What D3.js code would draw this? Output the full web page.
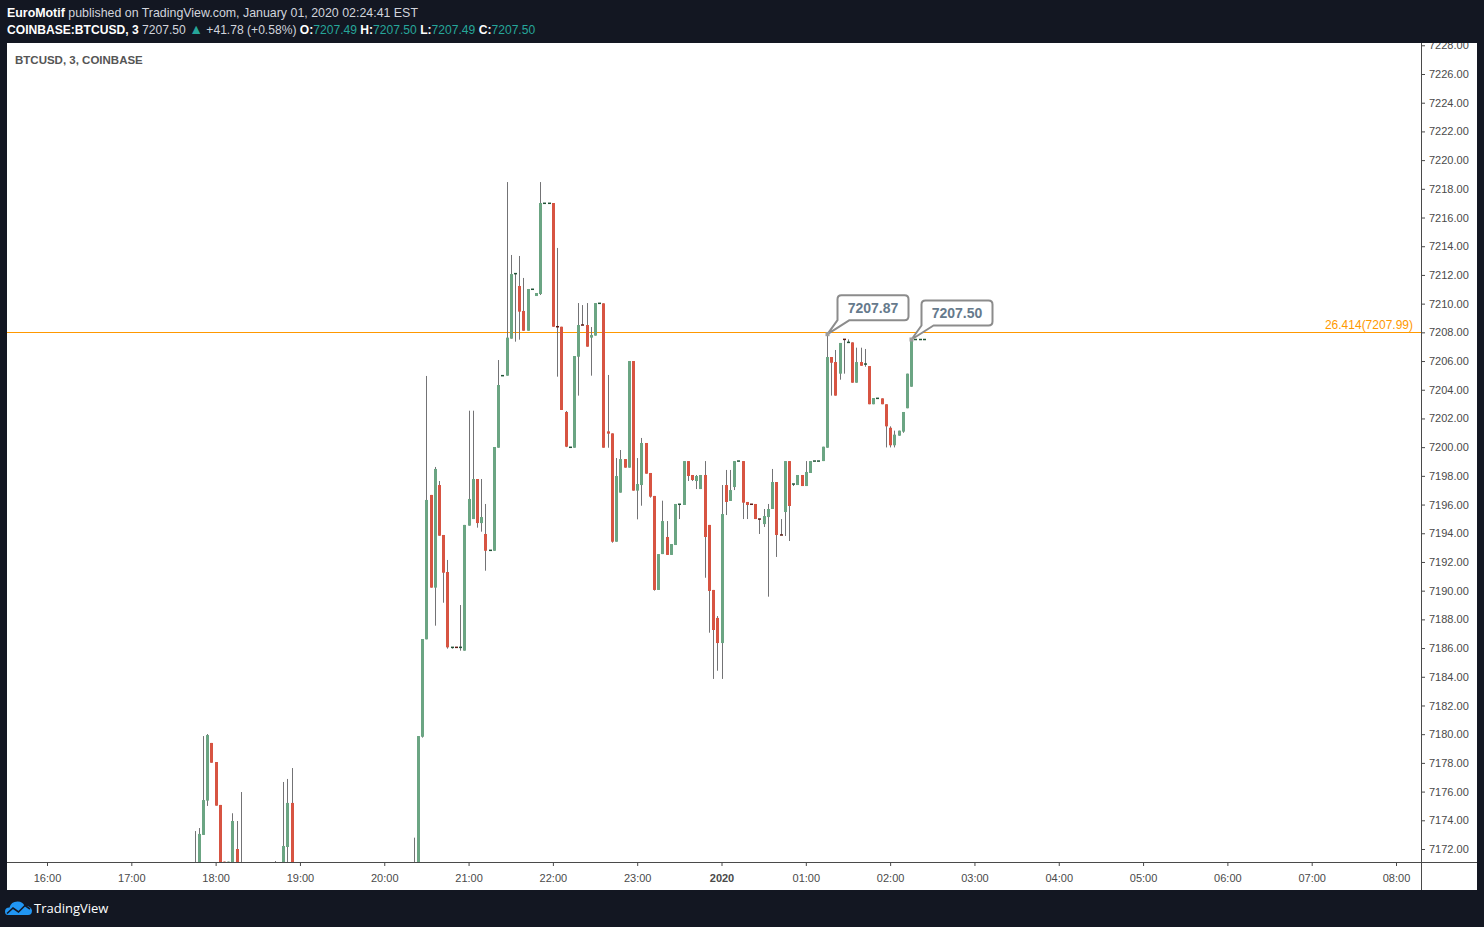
<!DOCTYPE html>
<html>
<head>
<meta charset="utf-8">
<script src="https://cdn.jsdelivr.net/npm/d3@7"></script>
<style>
  body { margin: 0; background: #131722; }
  svg { display: block; }
</style>
</head>
<body>
<svg id="chart" width="1484" height="927"></svg>
<script>
// ---- Data: COINBASE:BTCUSD 3 minute bars (EST), only the bars that reach the visible window ----
var barTimes = [
  "17:45","17:48","17:51","17:54","17:57","18:00","18:03","18:06","18:09","18:12","18:15","18:18",
  "18:42","18:48","18:51","18:54",
  "20:21","20:24","20:27","20:30","20:33","20:36","20:39","20:42","20:45","20:48","20:51","20:54","20:57",
  "21:00","21:03","21:06","21:09","21:12","21:15","21:18","21:21","21:24","21:27","21:30","21:33","21:36","21:39","21:42","21:45","21:48","21:51","21:54","21:57",
  "22:00","22:03","22:06","22:09","22:12","22:15","22:18","22:21","22:24","22:27","22:30","22:33","22:36","22:39","22:42","22:45","22:48","22:51","22:54","22:57",
  "23:00","23:03","23:06","23:09","23:12","23:15","23:18","23:21","23:24","23:27","23:30","23:33","23:36","23:39","23:42","23:45","23:48","23:51","23:54","23:57",
  "00:00","00:03","00:06","00:09","00:12","00:15","00:18","00:21","00:24","00:27","00:30","00:33","00:36","00:39","00:42","00:45","00:48","00:51","00:54","00:57",
  "01:00","01:03","01:06","01:09","01:12","01:15","01:18","01:21","01:24","01:27","01:30","01:33","01:36","01:39","01:42","01:45","01:48","01:51","01:54","01:57",
  "02:00","02:03","02:06","02:09","02:12","02:15","02:18","02:21","02:24"
];
var opens = [
  7170.80,7170.40,7172.98,7175.37,7179.39,7178.06,7175.07,7171.12,7170.60,7170.70,7172.00,7170.40,
  7170.60,7170.50,7172.14,7175.21,
  7170.20,7170.50,7179.82,7186.61,7196.67,7190.21,7197.36,7193.88,7191.30,7186.05,7186.06,7186.05,7185.82,
  7194.53,7194.99,7197.78,7194.71,7193.95,7192.81,7192.78,7199.96,7204.98,7204.98,7207.56,7212.09,7211.23,7209.49,7208.11,7211.00,7210.53,7210.67,7216.99,7216.99,
  7217.01,7208.40,7208.39,7202.45,7199.99,7199.96,7206.30,7208.52,7208.51,7207.63,7207.77,7210.02,7210.02,7201.10,7200.96,7193.41,7196.83,7199.17,7198.57,7206.00,
  7196.97,7197.36,7200.29,7198.20,7196.60,7190.05,7192.55,7193.74,7192.49,7193.18,7196.02,7195.97,7199.03,7198.06,7197.64,7197.08,7198.06,7194.58,7190.05,7188.10,
  7186.35,7197.36,7196.25,7197.22,7199.03,7199.03,7196.18,7196.03,7196.04,7195.00,7194.64,7195.13,7195.69,7197.57,7193.89,7195.48,7199.03,7197.43,7197.36,7198.06,
  7197.29,7198.20,7199.03,7199.03,7199.03,7199.96,7206.28,7205.93,7205.12,7207.52,7207.30,7207.30,7204.49,7205.93,7205.79,7205.65,7202.99,7203.40,7203.40,7202.99,
  7201.35,7200.13,7200.80,7201.08,7202.71,7204.21,7207.50,7207.50,7207.49
];
var highs = [
  7173.25,7173.46,7179.87,7180.01,7179.39,7178.06,7175.07,7171.12,7171.12,7174.49,7173.95,7175.97,
  7171.16,7176.67,7176.88,7177.64,
  7172.79,7179.87,7186.63,7204.96,7196.67,7198.62,7197.64,7193.88,7192.14,7186.05,7186.06,7189.00,7194.58,
  7202.54,7202.54,7197.78,7197.78,7196.04,7192.81,7200.01,7206.07,7204.98,7218.47,7213.39,7212.09,7213.32,7211.79,7211.02,7211.00,7210.74,7218.47,7216.99,7216.99,
  7217.01,7213.88,7208.39,7202.52,7199.99,7206.35,7210.04,7209.90,7210.04,7208.37,7210.04,7210.02,7210.02,7205.03,7200.96,7199.24,7199.80,7199.17,7206.00,7206.00,
  7199.24,7200.64,7200.29,7198.20,7196.60,7192.55,7196.27,7194.85,7193.25,7196.04,7196.02,7199.03,7199.03,7198.06,7198.06,7198.06,7199.03,7194.58,7190.05,7188.23,
  7197.36,7198.41,7198.41,7199.03,7199.03,7199.03,7196.18,7196.03,7196.04,7195.00,7195.69,7196.04,7198.48,7197.57,7194.99,7199.03,7199.03,7197.43,7198.06,7198.06,
  7199.03,7199.03,7199.03,7199.03,7200.03,7207.87,7206.28,7206.77,7207.26,7207.52,7207.51,7207.30,7206.93,7206.93,7206.84,7205.65,7203.42,7203.40,7203.40,7202.99,
  7201.45,7201.15,7201.15,7202.45,7205.12,7207.50,7207.50,7207.50,7207.50
];
var lows = [
  7170.00,7170.00,7172.98,7175.00,7178.01,7175.02,7170.30,7170.40,7170.60,7170.50,7170.40,7170.10,
  7170.20,7170.30,7170.30,7170.40,
  7170.00,7170.30,7179.76,7186.61,7190.21,7187.56,7193.83,7189.16,7185.96,7185.96,7186.05,7185.82,7185.82,
  7194.53,7194.99,7194.39,7194.11,7191.39,7192.81,7192.78,7199.96,7204.98,7204.98,7207.56,7207.35,7207.49,7208.11,7208.11,7211.00,7210.53,7210.60,7216.99,7216.99,
  7208.39,7204.91,7202.59,7200.00,7199.99,7199.96,7203.59,7208.51,7207.00,7204.98,7207.77,7210.02,7199.96,7199.96,7193.34,7193.41,7196.83,7198.57,7198.57,7196.97,
  7194.97,7195.92,7198.15,7196.48,7190.00,7190.05,7192.55,7192.49,7192.49,7193.18,7194.99,7195.97,7197.64,7197.64,7197.08,7197.08,7190.90,7187.07,7183.85,7184.42,
  7183.85,7195.27,7196.25,7197.01,7199.03,7194.99,7194.99,7196.02,7194.99,7193.95,7194.44,7189.58,7195.69,7192.35,7193.88,7193.81,7193.46,7197.29,7197.36,7197.29,
  7197.29,7198.20,7199.03,7199.03,7199.03,7199.96,7203.59,7203.59,7204.70,7205.12,7207.30,7204.49,7204.49,7205.67,7205.60,7202.99,7202.99,7203.40,7202.99,7199.98,
  7199.98,7199.98,7200.80,7201.00,7202.71,7204.21,7207.50,7207.50,7207.49
];
var closes = [
  7170.40,7173.05,7175.41,7179.94,7178.01,7175.02,7170.50,7170.60,7171.12,7173.95,7170.50,7170.20,
  7170.80,7172.21,7175.21,7170.60,
  7170.40,7179.87,7186.63,7196.32,7190.21,7198.48,7193.83,7191.25,7186.05,7186.05,7186.05,7186.05,7194.58,
  7196.39,7197.78,7194.71,7195.13,7192.78,7192.81,7200.01,7204.33,7204.98,7207.63,7212.06,7212.09,7209.44,7208.11,7211.02,7211.00,7210.74,7217.01,7216.99,7216.99,
  7208.39,7208.39,7202.59,7200.03,7199.99,7206.35,7208.51,7208.51,7207.00,7207.81,7210.04,7210.02,7199.96,7200.94,7193.41,7197.99,7199.17,7198.57,7206.00,7196.97,
  7197.43,7200.29,7198.15,7196.55,7190.05,7192.55,7194.85,7192.49,7193.25,7196.04,7196.02,7199.03,7197.99,7197.71,7197.99,7198.06,7193.74,7189.98,7187.26,7186.35,
  7195.34,7196.18,7197.01,7199.03,7199.03,7196.13,7195.97,7196.02,7194.99,7194.99,7195.20,7195.69,7197.57,7193.88,7193.88,7199.03,7195.90,7197.43,7198.06,7197.29,
  7198.27,7199.03,7199.03,7199.03,7200.03,7206.28,7205.88,7203.59,7207.26,7207.51,7207.30,7204.49,7205.93,7205.67,7205.79,7202.99,7203.42,7203.40,7202.99,7201.45,
  7200.13,7200.87,7201.15,7202.45,7205.12,7207.50,7207.50,7207.50,7207.50
];

// Previous session close (for the +41.78 change in the header)
var prevClose = 7165.72;

// Horizontal level drawn on the chart
var levelPrice = 7207.99;
var levelName = "26.414";

// Callouts: bar time + which price
var calloutTimes = ["01:15", "02:15"];

// Axis ticks
var priceTicks = d3.range(7172, 7229, 2);

// ---- Layout ----
var W = 1484, H = 927;
var font = "'Liberation Sans', Arial, sans-serif";
var upColor = "#6ba583", downColor = "#d75442",
    upBorder = "#225437", downBorder = "#5b1a13",
    wickColor = "#737375", axisColor = "#4a4a4a", textColor = "#4a4a4a",
    teal = "#26a69a";

var panel = {x: 7, y: 43, w: 1470, h: 847};
var plotRight = 1421, plotBottom = 862;

var svg = d3.select("#chart");

svg.append("rect").attr("width", W).attr("height", H).attr("fill", "#131722");
svg.append("rect")
    .attr("x", panel.x).attr("y", panel.y)
    .attr("width", panel.w).attr("height", panel.h)
    .attr("fill", "#ffffff");

var defs = svg.append("defs");
defs.append("clipPath").attr("id", "plotClip")
  .append("rect")
    .attr("x", panel.x).attr("y", panel.y)
    .attr("width", plotRight - panel.x).attr("height", plotBottom - panel.y);
defs.append("clipPath").attr("id", "panelClip")
  .append("rect")
    .attr("x", panel.x).attr("y", panel.y)
    .attr("width", panel.w).attr("height", panel.h);

// Scales
function parseBar(t) {
  var hm = t.split(":"), h = +hm[0], m = +hm[1];
  return h >= 16 ? new Date(2019, 11, 31, h, m) : new Date(2020, 0, 1, h, m);
}

var x = d3.scaleTime()
    .domain([new Date(2019, 11, 31, 16, 0), new Date(2020, 0, 1, 8, 0)])
    .range([47, 1396]);

var y = d3.scaleLinear()
    .domain([7172, 7226])
    .range([849, 74]);

var bars = barTimes.map(function(t, i) {
  return {t: t, time: parseBar(t), o: opens[i], h: highs[i], l: lows[i], c: closes[i]};
});

// ---- Axes ----
var axisG = svg.append("g").attr("clip-path", "url(#panelClip)");

// price axis
var yAxis = d3.axisRight(y)
    .tickValues(priceTicks)
    .tickFormat(d3.format(".2f"))
    .tickSize(4)
    .tickPadding(4);

var yG = axisG.append("g")
    .attr("transform", "translate(" + plotRight + ",0)")
    .call(yAxis);
yG.select(".domain").remove();
yG.selectAll(".tick line").attr("stroke", axisColor);
yG.selectAll(".tick text")
    .attr("fill", textColor)
    .style("font-family", font)
    .style("font-size", "11px");

// time axis
var xAxis = d3.axisBottom(x)
    .ticks(d3.timeHour.every(1))
    .tickFormat(function(d) { return d.getHours() === 0 ? "2020" : d3.timeFormat("%H:%M")(d); })
    .tickSize(4)
    .tickPadding(8);

var xG = axisG.append("g")
    .attr("transform", "translate(0," + plotBottom + ")")
    .call(xAxis);
xG.select(".domain").remove();
xG.selectAll(".tick line").attr("stroke", axisColor);
xG.selectAll(".tick text")
    .attr("fill", textColor)
    .style("font-family", font)
    .style("font-size", "11px")
    .style("font-weight", function(d) { return d.getHours() === 0 ? "bold" : "normal"; });

// axis lines
svg.append("line")
    .attr("x1", panel.x).attr("x2", panel.x + panel.w)
    .attr("y1", plotBottom + 0.5).attr("y2", plotBottom + 0.5)
    .attr("stroke", axisColor).attr("stroke-width", 1);
svg.append("line")
    .attr("x1", plotRight + 0.5).attr("x2", plotRight + 0.5)
    .attr("y1", panel.y).attr("y2", panel.y + panel.h)
    .attr("stroke", axisColor).attr("stroke-width", 1);

// ---- Candles ----
var plotG = svg.append("g").attr("clip-path", "url(#plotClip)");

// level line
plotG.append("line")
    .attr("x1", panel.x).attr("x2", plotRight)
    .attr("y1", Math.round(y(levelPrice)) + 0.5).attr("y2", Math.round(y(levelPrice)) + 0.5)
    .attr("stroke", "#ff9800").attr("stroke-width", 1);

plotG.append("text")
    .attr("x", plotRight - 8)
    .attr("y", Math.round(y(levelPrice)) - 3)
    .attr("text-anchor", "end")
    .attr("fill", "#ff9800")
    .style("font-family", font)
    .style("font-size", "12px")
    .text(levelName + "(" + levelPrice.toFixed(2) + ")");

var candle = plotG.append("g").selectAll("g")
    .data(bars).enter()
    .append("g");

candle.append("line")
    .attr("x1", function(d) { return Math.round(x(d.time)) + 0.5; })
    .attr("x2", function(d) { return Math.round(x(d.time)) + 0.5; })
    .attr("y1", function(d) { return y(d.h); })
    .attr("y2", function(d) { return y(d.l); })
    .attr("stroke", wickColor)
    .attr("stroke-width", 1);

candle.append("rect")
    .attr("x", function(d) { return Math.round(x(d.time)) - 1; })
    .attr("width", 3)
    .attr("y", function(d) {
      var hgt = Math.abs(y(d.o) - y(d.c));
      return hgt < 1 ? y(d.c) - 0.75 : Math.min(y(d.o), y(d.c));
    })
    .attr("height", function(d) {
      var hgt = Math.abs(y(d.o) - y(d.c));
      return hgt < 1 ? 1.5 : hgt;
    })
    .attr("fill", function(d) {
      var flat = Math.abs(y(d.o) - y(d.c)) < 1;
      if (d.c >= d.o) return flat ? upBorder : upColor;
      return flat ? downBorder : downColor;
    });

// ---- Callouts ----
var callouts = calloutTimes.map(function(t) {
  var b = bars.filter(function(d) { return d.t === t; })[0];
  return {time: b.time, price: b.h};
});

var co = svg.append("g").selectAll("g")
    .data(callouts).enter()
    .append("g");

co.append("path")
    .attr("d", function(d) {
      var ax = Math.round(x(d.time)) + 0.5, ay = y(d.price);
      var bw = 71, bh = 25, r = 4;
      var bx = ax + 10, bb = ay - 14;
      return "M" + ax + "," + ay +
        "L" + (bx + 12) + "," + bb +
        "L" + (bx + bw - r) + "," + bb +
        "Q" + (bx + bw) + "," + bb + " " + (bx + bw) + "," + (bb - r) +
        "L" + (bx + bw) + "," + (bb - bh + r) +
        "Q" + (bx + bw) + "," + (bb - bh) + " " + (bx + bw - r) + "," + (bb - bh) +
        "L" + (bx + r) + "," + (bb - bh) +
        "Q" + bx + "," + (bb - bh) + " " + bx + "," + (bb - bh + r) +
        "L" + bx + "," + bb + "Z";
    })
    .attr("fill", "#ffffff")
    .attr("stroke", "#8c8c8c")
    .attr("stroke-width", 2)
    .attr("stroke-linejoin", "round");

co.append("rect")
    .attr("x", function(d) { return Math.round(x(d.time)) - 1.5; })
    .attr("y", function(d) { return y(d.price) - 2; })
    .attr("width", 4).attr("height", 4)
    .attr("fill", "#9e9e9e");

co.append("text")
    .attr("x", function(d) { return Math.round(x(d.time)) + 0.5 + 10 + 35.5; })
    .attr("y", function(d) { return y(d.price) - 14 - 12.5 + 5; })
    .attr("text-anchor", "middle")
    .attr("fill", "#667a8c")
    .style("font-family", font)
    .style("font-size", "14px")
    .style("font-weight", "bold")
    .text(function(d) { return d.price.toFixed(2); });

// ---- Title inside the pane ----
svg.append("text")
    .attr("x", 15).attr("y", 64)
    .attr("fill", "#555555")
    .style("font-family", font)
    .style("font-size", "11.5px")
    .style("font-weight", "bold")
    .text("BTCUSD, 3, COINBASE");

// ---- Header ----
var last = bars[bars.length - 1];
var change = last.c - prevClose;

var h1 = svg.append("text")
    .attr("x", 7).attr("y", 17)
    .style("font-family", font)
    .style("font-size", "12.4px");
h1.append("tspan").attr("fill", "#ffffff").style("font-weight", "bold").text("EuroMotif");
h1.append("tspan").attr("fill", "#d1d4dc").text(" published on TradingView.com, January 01, 2020 02:24:41 EST");

var h2 = svg.append("text")
    .attr("x", 7).attr("y", 34)
    .style("font-family", font)
    .style("font-size", "12.1px");
h2.append("tspan").attr("fill", "#ffffff").style("font-weight", "bold").text("COINBASE:BTCUSD, 3");
h2.append("tspan").attr("fill", "#d1d4dc").text(" " + last.c.toFixed(2) + " ");
h2.append("tspan").attr("fill", teal).style("font-size", "14px").text("\u25B2");
h2.append("tspan").attr("fill", "#d1d4dc")
    .text(" +" + change.toFixed(2) + " (+" + (change / prevClose * 100).toFixed(2) + "%) ");
[["O:", last.o], ["H:", last.h], ["L:", last.l], ["C:", last.c]].forEach(function(p, i) {
  h2.append("tspan").attr("fill", "#ffffff").style("font-weight", "bold").text((i > 0 ? " " : "") + p[0]);
  h2.append("tspan").attr("fill", teal).text(p[1].toFixed(2));
});

// ---- Footer logo ----
var logo = svg.append("g");
logo.append("path")
    .attr("d", "M8,915 Q5,915 5,911.5 Q5,907.5 9.5,907.5 Q11,901.5 17.5,901.5 Q23,901.5 24.5,906 Q31,905.5 32,910.5 Q32,915 28,915 Z")
    .attr("fill", "#2196f3");
logo.append("polyline")
    .attr("points", "7,913.5 13,908 18.5,912 25,905.5 30,909")
    .attr("fill", "none")
    .attr("stroke", "#131722")
    .attr("stroke-width", 1.6);

svg.append("text")
    .attr("x", 34).attr("y", 913)
    .attr("fill", "#ffffff")
    .style("font-family", "'Open Sans', 'Noto Sans', sans-serif")
    .style("font-size", "13px")
    .text("TradingView");
</script>
</body>
</html>
